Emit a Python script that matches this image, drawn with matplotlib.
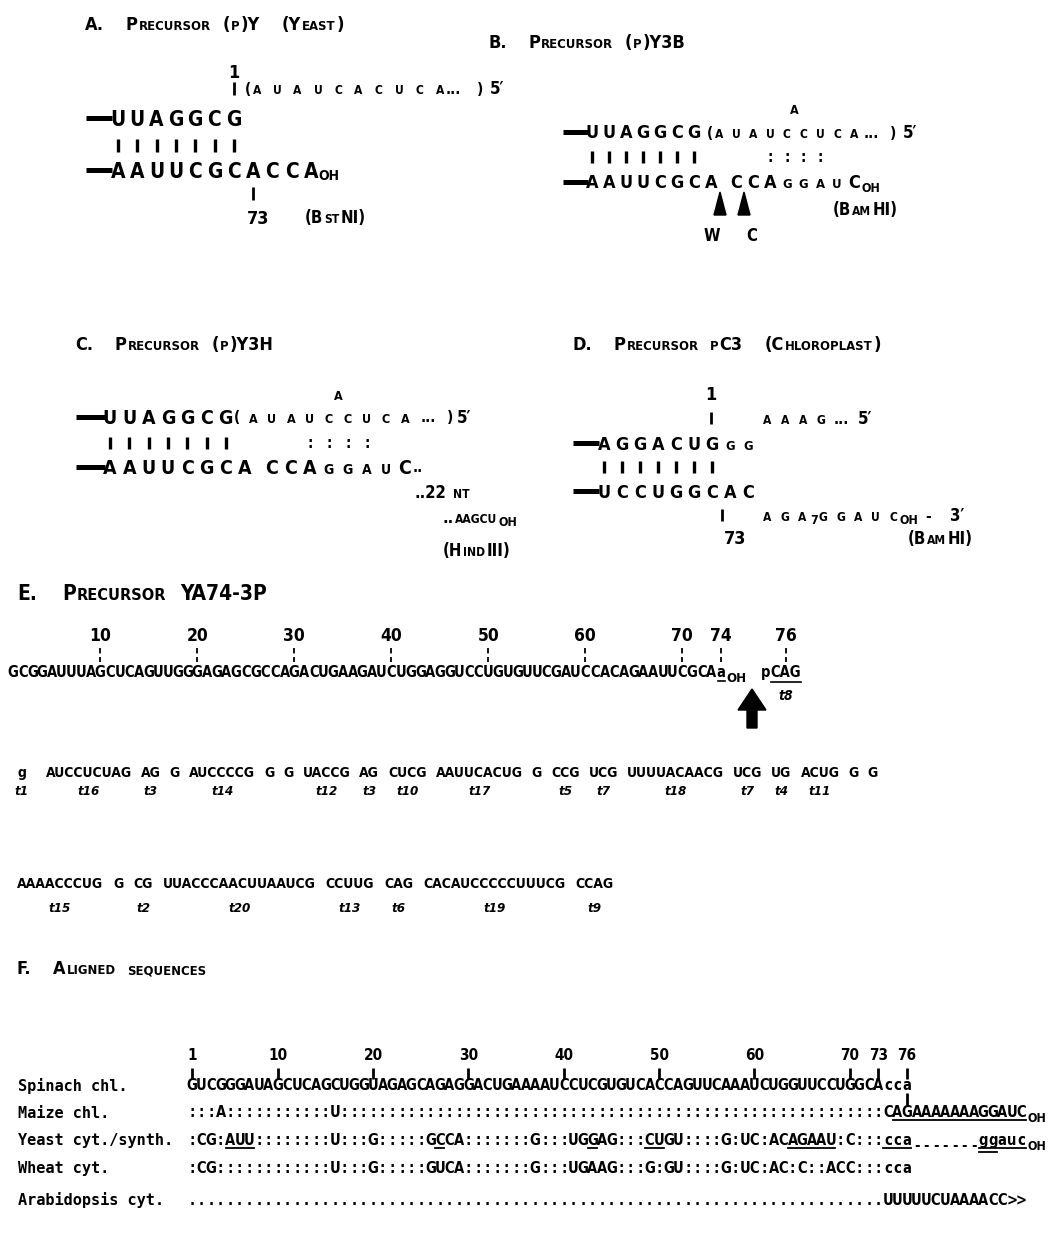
import matplotlib.pyplot as plt
from matplotlib import font_manager
from matplotlib.patches import Polygon

# ---- data (lower case letters are printed as small capitals in A-D) ----
A_top = "UUAGGCG"
A_bottom = "AAUUCGCACCA"
A_loop = "auaucacuca"
B_top = "UUAGGCG"
B_bottom = "AAUUCGCA"
B_loop = "auauccuca"
B_tail = "CCAggauC"
C_top = "UUAGGCG"
C_bottom = "AAUUCGCA"
C_loop = "auauccuca"
C_tail = "CCAggauC"
D_top = "AGGACUGgg"
D_bottom = "UCCUGGCAC"
D_loop = "aaag"
D_tail_a = "aga"
D_tail_run = "7"
D_tail_b = "ggauc"
n_pairs = 7

E_seq = "GCGGAUUUAGCUCAGUUGGGAGAGCGCCAGACUGAAGAUCUGGAGGUCCUGUGUUCGAUCCACAGAAUUCGCAa"
E_ticks = [10, 20, 30, 40, 50, 60, 70, 74]
E_frags1 = ["g", "AUCCUCUAG", "AG", "G", "AUCCCCG", "G", "G", "UACCG", "AG", "CUCG",
            "AAUUCACUG", "G", "CCG", "UCG", "UUUUACAACG", "UCG", "UG", "ACUG", "G", "G"]
E_labels1 = ["t1", "t16", "t3", "", "t14", "", "", "t12", "t3", "t10",
             "t17", "", "t5", "t7", "t18", "t7", "t4", "t11", "", ""]
E_frags2 = ["AAAACCCUG", "G", "CG", "UUACCCAACUUAAUCG", "CCUUG", "CAG", "CACAUCCCCCUUUCG", "CCAG"]
E_labels2 = ["t15", "", "t2", "t20", "t13", "t6", "t19", "t9"]

F_ticks = [1, 10, 20, 30, 40, 50, 60, 70, 73, 76]
F_names = ["Spinach chl.", "Maize chl.", "Yeast cyt./synth.", "Wheat cyt.", "Arabidopsis cyt."]
spinach = "GUCGGGAUAGCUCAGCUGGUAGAGCAGAGGACUGAAAAUCCUCGUGUCACCAGUUCAAAUCUGGUUCCUGGCAcca"
maize = ":::A" + ":" * 11 + "U" + ":" * 57 + "CAGAAAAAAAGGAUC"
yeast = ":CG:AUU::::::::U:::G:::::GCCA:::::::G:::UGGAG:::CUGU::::G:UC:ACAGAAU:C:::cca-------ggauc"
wheat = ":CG::::::::::::U:::G:::::GUCA:::::::G:::UGAAG:::G:GU::::G:UC:AC:C::ACC:::cca"
arabidopsis = "." * 73 + "UUUUUCUAAAACC>>"
F_rows = [spinach, maize, yeast, wheat, arabidopsis]
maize_under = [(75, 88)]
yeast_under = [(5, 7), (27, 27), (43, 43), (49, 50), (64, 68), (74, 76), (84, 88)]

# a narrow bold face if one is installed
have = {(f.name, f.stretch) for f in font_manager.fontManager.ttflist}
if any(n == "Liberation Sans Narrow" for n, s in have):
    FAM, STRETCH = ["Liberation Sans Narrow", "DejaVu Sans"], "normal"
elif any(n == "DejaVu Sans" and s != "normal" for n, s in have):
    FAM, STRETCH = ["DejaVu Sans"], "condensed"
else:
    FAM, STRETCH = ["Roboto", "DejaVu Sans"], "normal"
MONO = ["DejaVu Sans Mono"]

fig = plt.figure(figsize=(10.51, 12.53), dpi=100)
ax = fig.add_axes([0, 0, 1, 1])
ax.set_xlim(0, 1051)
ax.set_ylim(1253, 0)
ax.axis("off")
rend = fig.canvas.get_renderer()


def put(x, yc, s, size, ha="left", fam=None, style="normal", base=None):
    # yc = middle of the capitals; the text sits on its baseline
    b = base if base is not None else size
    return ax.text(x, yc + b / 2, s, fontsize=size, ha=ha, va="baseline",
                   family=fam or FAM, fontstretch=STRETCH if fam is None else "normal",
                   fontweight="bold", fontstyle=style)


def right(t):
    return t.get_window_extent(rend).x1


def smallcaps(x, yc, s, size, ratio=0.72, sp=0.45):
    i = 0
    while i < len(s):
        if s[i] == " ":
            x += size * sp
            i += 1
            continue
        low = s[i].islower()
        j = i
        while j < len(s) and s[j] != " " and s[j].islower() == low:
            j += 1
        part = s[i:j]
        fs = size * ratio if low else size
        t = put(x, yc, part.upper() if low else part, fs, base=size)
        x = right(t) + size * 0.08
        i = j
    return x


def spaced(x0, dx, yc, s, size, ratio=0.72):
    for i, ch in enumerate(s):
        if ch == " ":
            continue
        low = ch.islower()
        put(x0 + i * dx, yc, ch.upper() if low else ch,
            size * ratio if low else size, ha="center", base=size)


def bars(x0, dx, n, yc, h=12):
    ax.vlines([x0 + i * dx for i in range(n)], yc - h / 2, yc + h / 2, color="black", lw=2.4)


def strand(x1, x2, y):
    ax.plot([x1, x2], [y, y], color="black", lw=3.6, solid_capstyle="butt")


# ---- A ----
smallcaps(85, 23, "A.  Precursor (p)Y  (Yeast)", 13, sp=0.8)
put(234, 72, "1", 13, ha="center")
ax.vlines(234, 82, 95, color="black", lw=2)
put(248, 88, "(", 11, ha="center")
spaced(257, 20.3, 88, A_loop, 12)
put(446, 88, "...", 11)
put(480, 88, ")", 11, ha="center")
put(490, 88, "5\u2032", 12)
strand(86, 112, 118)
spaced(118, 19.3, 118, A_top, 15)
bars(118, 19.3, n_pairs, 145, 13)
strand(86, 112, 170)
spaced(118, 19.3, 170, A_bottom, 15)
put(118 + 10 * 19.3 + 7, 175, "OH", 10)
ax.vlines(118 + 7 * 19.3, 187, 200, color="black", lw=2)
put(258, 217, "73", 13, ha="center")
smallcaps(305, 217, "(BstNI)", 12)

# ---- B ----
smallcaps(488, 42, "B.  Precursor (p)Y3B", 13, sp=0.8)
put(794, 109, "A", 9, ha="center")
strand(563, 588, 132)
spaced(592, 17, 132, B_top, 13)
put(710, 132, "(", 11, ha="center")
spaced(719.5, 16.8, 132, B_loop, 12)
put(864, 132, "...", 11)
put(893, 132, ")", 11, ha="center")
put(903, 132, "5\u2032", 12)
bars(592, 17, n_pairs, 157, 12)
for k in range(3, 7):
    put(719.5 + 16.8 * k, 157, ":", 11, ha="center")
strand(563, 588, 182)
spaced(592, 17, 182, B_bottom, 13)
spaced(719.5 + 16.8, 16.8, 182, B_tail, 13)
put(719.5 + 16.8 * 8 + 8, 187, "OH", 9)
for tx in (720, 744):
    ax.add_patch(Polygon([(tx, 192), (tx - 6, 215), (tx + 6, 215)], closed=True, color="black"))
put(712, 235, "W", 12, ha="center")
put(752, 235, "C", 12, ha="center")
smallcaps(833, 209, "(BamHI)", 12)

# ---- C ----
smallcaps(75, 343, "C.  Precursor (p)Y3H", 13, sp=0.8)
put(338, 395, "A", 9, ha="center")
strand(76, 105, 417)
spaced(110, 19.3, 417, C_top, 14)
put(237, 417, "(", 11, ha="center")
spaced(253, 19, 417, C_loop, 12.5)
put(421, 417, "...", 11)
put(450, 417, ")", 11, ha="center")
put(457, 417, "5\u2032", 12)
bars(110, 19.3, n_pairs, 443, 12)
for k in range(3, 7):
    put(253 + 19 * k, 443, ":", 11, ha="center")
strand(76, 105, 467)
spaced(110, 19.3, 467, C_bottom, 14)
spaced(272, 19, 467, C_tail, 14)
put(413, 467, "..", 11)
smallcaps(415, 492, "..22 nt", 12)
x = smallcaps(443, 517, "..aagcu", 12)
put(x, 521, "OH", 9)
smallcaps(443, 550, "(HindIII)", 12)

# ---- D ----
smallcaps(572, 343, "D.  Precursor pC3  (Chloroplast)", 13, sp=0.8)
put(711, 393, "1", 13, ha="center")
ax.vlines(711, 412, 424, color="black", lw=2)
spaced(767, 18, 418, D_loop, 12)
put(834, 418, "...", 11)
put(858, 418, "5\u2032", 12)
strand(573, 599, 443)
spaced(604, 18, 443, D_top, 13)
bars(604, 18, n_pairs, 467, 12)
strand(573, 599, 491)
spaced(604, 18, 491, D_bottom, 13)
ax.vlines(722, 509, 521, color="black", lw=2)
spaced(767, 17.5, 515, D_tail_a, 12)
put(810, 519, D_tail_run, 9)
spaced(823, 17.5, 515, D_tail_b, 12)
put(899, 519, "OH", 9)
put(928, 515, "-", 11, ha="center")
put(950, 515, "3\u2032", 12)
put(735, 538, "73", 13, ha="center")
smallcaps(908, 538, "(BamHI)", 12)

# ---- E ----
smallcaps(17, 592, "E.  Precursor YA74-3P", 15, ratio=0.78, sp=0.8)
xE0, dE = 13, 9.7
for n in E_ticks:
    xt = xE0 + (n - 1) * dE
    put(xt, 635, str(n), 12.5, ha="center")
    ax.plot([xt, xt], [648, 662], color="black", lw=1.3, ls=(0, (3, 2)))
for i, ch in enumerate(E_seq):
    put(xE0 + i * dE, 672, ch, 10.5, ha="center")
xa = xE0 + (len(E_seq) - 1) * dE
ax.plot([xa - 3.5, xa + 3.5], [681, 681], color="black", lw=1.2)
put(xa + 5, 677, "OH", 9.5)
ax.add_patch(Polygon([(752, 689), (766, 710), (757, 710), (757, 728), (747, 728),
                      (747, 710), (738, 710)], closed=True, color="black"))
tp = put(761, 672, "p", 10.5)
tc = put(right(tp), 672, "CAG", 10.5)
bb = tc.get_window_extent(rend)
ax.plot([bb.x0, bb.x1], [682, 682], color="black", lw=1.2)
put((bb.x0 + bb.x1) / 2, 695, "t8", 10, ha="center", style="italic")
xc = (bb.x0 + bb.x1) / 2
put(xc, 635, "76", 12.5, ha="center")
ax.plot([xc, xc], [648, 662], color="black", lw=1.3, ls=(0, (3, 2)))


def frag_row(x, yc, yl, frags, labels, gap, first_gap):
    for k, (f, lab) in enumerate(zip(frags, labels)):
        t = put(x, yc, f, 10)
        b = t.get_window_extent(rend)
        if lab:
            put((b.x0 + b.x1) / 2, yl, lab, 9.5, ha="center", style="italic")
        x = b.x1 + (first_gap if k == 0 else gap)


frag_row(17, 772, 790, E_frags1, E_labels1, 9, 20)
frag_row(17, 883, 907, E_frags2, E_labels2, 10, 10)

# ---- F ----
smallcaps(17, 968, "F.  Aligned sequences", 13, sp=0.8)
xF0, dF = 192, 9.533
for n in F_ticks:
    xt = xF0 + (n - 1) * dF
    put(xt, 1055, str(n), 11, ha="center")
    ax.vlines(xt, 1068, 1079, color="black", lw=2)
row_y = [1085, 1112, 1140, 1168, 1200]
for name, seq, yr in zip(F_names, F_rows, row_y):
    put(18, yr, name, 11, fam=MONO)
    for i, ch in enumerate(seq):
        if ch == "-":
            put(xF0 + i * dF, yr + 5, ch, 10.5, ha="center")
        else:
            put(xF0 + i * dF, yr, ch, 10.5, ha="center")
ax.vlines(xF0 + 75 * dF, 1093, 1105, color="black", lw=2)
for seq, yr in ((maize, row_y[1]), (yeast, row_y[2])):
    put(xF0 + (len(seq) - 1) * dF + 6, yr + 5, "OH", 9)
for spans, yr in ((maize_under, row_y[1]), (yeast_under, row_y[2])):
    for a, b in spans:
        ax.plot([xF0 + (a - 1) * dF - 4.5, xF0 + (b - 1) * dF + 4.5], [yr + 8, yr + 8],
                color="black", lw=1.3)
ax.plot([xF0 + 83 * dF - 4.5, xF0 + 84 * dF + 4.5], [row_y[2] + 12, row_y[2] + 12],
        color="black", lw=1.3)

fig.savefig("out.png", dpi=100, facecolor="white")
